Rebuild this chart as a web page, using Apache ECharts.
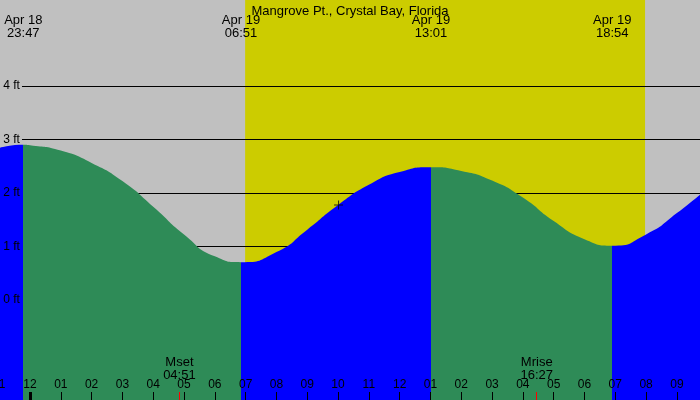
<!DOCTYPE html>
<html>
<head>
<meta charset="utf-8">
<script src="https://cdn.jsdelivr.net/npm/echarts@6/dist/echarts.min.js"></script>
<style>
  html, body { margin: 0; padding: 0; background: #c0c0c0; }
  #chart { width: 700px; height: 400px; }
</style>
</head>
<body>
<div id="chart"></div>
<script>
// tide heights (ft), hours from midnight Apr 19
var hours   = [-1, 0, 1, 2, 3, 4, 5, 6, 8, 9, 10, 11, 12, 14, 15, 16, 17, 18, 20, 21, 22];
var heights = [2.84, 2.89, 2.79, 2.56, 2.22, 1.74, 1.22, 0.81, 0.89, 1.31, 1.77, 2.15, 2.39, 2.41, 2.23, 1.91, 1.47, 1.13, 1.22, 1.62, 2.09];

// high / low tides
var eventDays    = ['Apr 18', 'Apr 19', 'Apr 19', 'Apr 19'];
var eventTimes   = ['23:47', '06:51', '13:01', '18:54'];
var eventHeights = [2.90, 0.70, 2.48, 1.01];

var moonNames = ['Mset', 'Mrise'];
var moonTimes = ['04:51', '16:27'];

var sunTimes = ['06:59', '19:58'];   // daylight band

var nowTime = '10:01';
var nowHeight = 1.77;

var hourTicks = [-1, 0, 1, 2, 3, 4, 5, 6, 7, 8, 9, 10, 11, 12, 13, 14, 15, 16, 17, 18, 19, 20, 21];
var footTicks = [0, 1, 2, 3, 4];

var FONT = 'Liberation Sans';

function toHour(t, day) {
    var p = t.split(':');
    var h = +p[0] + p[1] / 60;
    if (day === 'Apr 18') h -= 24;
    return h;
}
function pad(n) { return (n < 10 ? '0' : '') + n; }

var eventHours = eventTimes.map(function (t, i) { return toHour(t, eventDays[i]); });
var moonHours = moonTimes.map(function (t) { return toHour(t); });

// merge hourly readings and the tide turns
var tide = hours.map(function (h, i) { return [h, heights[i]]; });
eventHours.forEach(function (h, i) { tide.push([h, eventHeights[i]]); });
tide.sort(function (a, b) { return a[0] - b[0]; });

// rising = blue, falling = green
var BLUE = '#0000ff', GREEN = '#2e8b57';
var pieces = [];
var prev = null;
eventHours.forEach(function (h, i) {
    var isHigh = eventHeights[i] > 2;
    var piece = { color: isHigh ? BLUE : GREEN, lt: h };
    if (prev !== null) piece.gte = prev;
    pieces.push(piece);
    prev = h;
});
pieces.push({ gte: prev, color: eventHeights[eventHeights.length - 1] > 2 ? GREEN : BLUE });

var X_MIN = -1, X_MAX = 21.75;

var gridLines = footTicks.filter(function (v) { return v > 0; }).map(function (v) {
    return [{ coord: [-0.26, v] }, { coord: [X_MAX, v] }];
});

function timeAxis(extra) {
    var base = {
        type: 'value', min: X_MIN, max: X_MAX, position: 'bottom', z: 10,
        axisLine: { show: false, onZero: false },
        splitLine: { show: false }
    };
    return Object.assign(base, extra);
}

var myChart = echarts.init(document.getElementById('chart'));
var option = {
    backgroundColor: '#c0c0c0',
    animation: false,
    title: {
        text: 'Mangrove Pt., Crystal Bay, Florida',
        left: 'center',
        top: 0,
        textStyle: { fontFamily: FONT, fontSize: 13, fontWeight: 'normal', color: '#000' }
    },
    grid: { left: -0.8, right: 0, top: 0, bottom: 0, outerBoundsMode: 'none', containLabel: false },
    xAxis: [
        timeAxis({
            axisTick: { show: true, inside: true, length: 8, customValues: hourTicks, lineStyle: { color: '#000' } },
            axisLabel: {
                show: true, inside: true, margin: 9, customValues: hourTicks,
                fontFamily: FONT, fontSize: 12, color: '#000',
                formatter: function (v) {
                    var h = ((v % 12) + 12) % 12;
                    return h === 0 ? '12' : pad(h);
                }
            }
        }),
        timeAxis({
            axisTick: { show: true, inside: true, length: 8, customValues: [0], lineStyle: { color: '#000', width: 3 } },
            axisLabel: { show: false }
        }),
        timeAxis({
            z: 11,
            axisTick: { show: true, inside: true, length: 8, customValues: moonHours, lineStyle: { color: '#ff0000' } },
            axisLabel: {
                show: true, inside: true, margin: 18, customValues: moonHours,
                fontFamily: FONT, fontSize: 13, color: '#000', lineHeight: 13,
                formatter: function (v) {
                    var i = moonHours.indexOf(v);
                    return moonNames[i] + '\n' + moonTimes[i];
                }
            }
        }),
        timeAxis({
            position: 'top',
            axisTick: { show: false },
            axisLabel: {
                show: true, inside: true, margin: 14, customValues: eventHours,
                fontFamily: FONT, fontSize: 13, color: '#000', lineHeight: 13,
                formatter: function (v) {
                    var i = eventHours.indexOf(v);
                    return eventDays[i] + '\n' + eventTimes[i];
                }
            }
        })
    ],
    yAxis: {
        type: 'value', min: -1.88, max: 5.61, z: 10,
        axisLine: { show: false, onZero: false },
        axisTick: { show: false },
        splitLine: { show: false },
        axisLabel: {
            show: true, inside: true, margin: 4, customValues: footTicks,
            fontFamily: FONT, fontSize: 12, color: '#000',
            formatter: '{value} ft'
        }
    },
    visualMap: {
        show: false,
        type: 'piecewise',
        seriesIndex: 1,
        dimension: 0,
        pieces: pieces
    },
    series: [
        {
            // daylight band and foot lines, behind the water
            type: 'line',
            data: [],
            z: 1,
            silent: true,
            markArea: {
                silent: true,
                z: 0,
                itemStyle: { color: '#cccc00', opacity: 1 },
                data: [[{ xAxis: toHour(sunTimes[0]) }, { xAxis: toHour(sunTimes[1]) }]]
            },
            markLine: {
                silent: true,
                z: 1,
                symbol: 'none',
                label: { show: false },
                lineStyle: { color: '#000', width: 1, type: 'solid' },
                data: gridLines
            }
        },
        {
            type: 'line',
            data: tide,
            z: 2,
            smooth: 0.6,
            showSymbol: false,
            silent: true,
            lineStyle: { width: 0 },
            areaStyle: { origin: 'start', opacity: 1 }
        },
        {
            type: 'scatter',
            z: 3,
            silent: true,
            data: [[toHour(nowTime), nowHeight]],
            symbol: 'path://M4,0L5,0L5,4L9,4L9,5L5,5L5,9L4,9L4,5L0,5L0,4L4,4Z',
            symbolSize: 9,
            itemStyle: { color: '#000' }
        }
    ]
};
myChart.setOption(option);
</script>
</body>
</html>
